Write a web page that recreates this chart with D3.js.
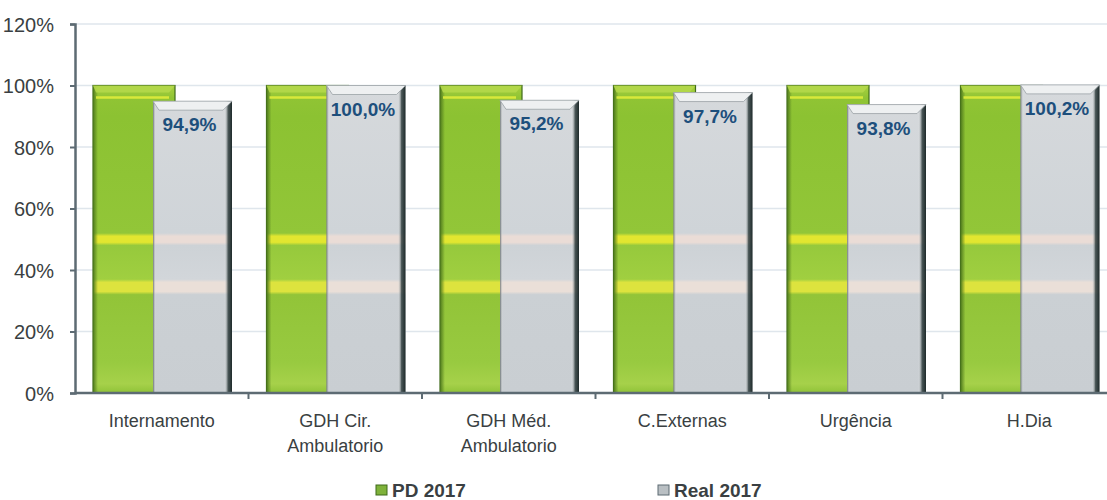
<!DOCTYPE html>
<html><head><meta charset="utf-8">
<script src="https://cdn.jsdelivr.net/npm/d3@7/dist/d3.min.js"></script>
<style>
html,body{margin:0;padding:0;background:#fff;}
text{font-family:"Liberation Sans",Arial,sans-serif;}
</style></head>
<body>
<svg id="chart" width="1107" height="500"></svg>
<script>
const categories = ["Internamento", "GDH Cir.\nAmbulatorio", "GDH Méd.\nAmbulatorio", "C.Externas", "Urgência", "H.Dia"];
const pd2017 = [100, 100, 100, 100, 100, 100];
const real2017 = [94.9, 100.0, 95.2, 97.7, 93.8, 100.2];
const realLabels = ["94,9%", "100,0%", "95,2%", "97,7%", "93,8%", "100,2%"];
const yTicks = [0, 20, 40, 60, 80, 100, 120];
const seriesNames = ["PD 2017", "Real 2017"];

const svg = d3.select("#chart");
const W = 1107, H = 500;
const x0 = 75, bandW = 173.5;
const x = d3.scaleBand().domain(categories).range([x0, x0 + bandW * categories.length]).padding(0);
const y = d3.scaleLinear().domain([0, 120]).range([393, 24]);

const defs = svg.append("defs");
const gG = defs.append("linearGradient").attr("id", "gGreen").attr("gradientUnits", "userSpaceOnUse")
  .attr("x1", 0).attr("x2", 0).attr("y1", y(100)).attr("y2", y(0));
const p = v => (y(100) - y(v)) / (y(100) - y(0));
[[0, "#a8d040"], [p(96), "#90c434"], [p(90), "#8cc232"], [p(52), "#92c638"], [p(51), "#e2e630"], [p(49), "#e2e630"], [p(48), "#96c93c"],
 [p(37), "#a0cf40"], [p(36), "#dde33e"], [p(33), "#dde33e"], [p(32), "#92c438"], [p(10), "#98ca40"], [p(3), "#a6d14a"], [1, "#90c238"]]
  .forEach(s => gG.append("stop").attr("offset", s[0]).attr("stop-color", s[1]));
const gH = defs.append("linearGradient").attr("id", "gGreenH");
[[0, "#4e7a1c"], [0.06, "rgba(80,120,30,0)"], [1, "rgba(80,120,30,0)"]]
  .forEach(s => gH.append("stop").attr("offset", s[0]).attr("stop-color", s[1]));
const gR = defs.append("linearGradient").attr("id", "gGrey").attr("gradientUnits", "userSpaceOnUse")
  .attr("x1", 0).attr("x2", 0).attr("y1", y(100)).attr("y2", y(0));
[[0, "#d6d9dc"], [p(52), "#cfd4d8"], [p(51), "#eadcd6"], [p(49), "#eadcd6"], [p(48), "#cdd2d6"],
 [p(37), "#d2d6da"], [p(36), "#eadfd8"], [p(33), "#eadfd8"], [p(32), "#cbd0d4"], [1, "#c9ced2"]]
  .forEach(s => gR.append("stop").attr("offset", s[0]).attr("stop-color", s[1]));
const gRH = defs.append("linearGradient").attr("id", "gGreyH");
[[0, "rgba(60,70,70,0.7)"], [0.04, "rgba(255,255,255,0)"], [0.9, "rgba(255,255,255,0)"], [0.95, "rgba(40,55,55,0.8)"], [1, "#1e2a2a"]]
  .forEach(s => gRH.append("stop").attr("offset", s[0]).attr("stop-color", s[1]));

svg.append("g").selectAll("line").data(yTicks.filter(t => t > 0)).join("line")
  .attr("x1", x0).attr("x2", W).attr("y1", d => y(d)).attr("y2", d => y(d))
  .attr("stroke", "#dfe6ec").attr("stroke-width", 1.5);

const yAxis = svg.append("g").attr("transform", `translate(${x0},0)`)
  .call(d3.axisLeft(y).tickValues(yTicks).tickFormat(d => d + "%").tickSize(5).tickPadding(16));
yAxis.select(".domain").attr("stroke", "#5d6b73").attr("stroke-width", 2.5);
yAxis.selectAll(".tick line").attr("stroke", "#5d6b73").attr("stroke-width", 2);
yAxis.selectAll(".tick text").attr("font-size", 20).attr("fill", "#3a3f42").attr("dy", "0.36em")
  .style("font-family", "'Liberation Sans', Arial, sans-serif");

const gW = 82, rW = 79, gOff = 18, rOff = 78;
const groups = svg.append("g").selectAll("g").data(categories).join("g");
groups.append("rect").attr("x", d => x(d) + gOff).attr("y", (d, i) => y(pd2017[i]))
  .attr("width", gW).attr("height", (d, i) => y(0) - y(pd2017[i])).attr("fill", "url(#gGreen)")
  .attr("stroke", "#3f6a1a").attr("stroke-width", 1.2);
groups.append("rect").attr("x", d => x(d) + gOff).attr("y", (d, i) => y(pd2017[i]))
  .attr("width", gW).attr("height", (d, i) => y(0) - y(pd2017[i])).attr("fill", "url(#gGreenH)");
groups.append("polygon").attr("points", (d, i) => {
  const xl = x(d) + gOff, xr = xl + gW, yt = y(pd2017[i]);
  return `${xl},${yt} ${xr},${yt} ${xr - 6},${yt + 7} ${xl + 3},${yt + 7}`;
}).attr("fill", "#b4d84a").attr("opacity", 0.9);
groups.append("line").attr("x1", d => x(d) + gOff + 3).attr("x2", d => x(d) + gOff + gW - 6)
  .attr("y1", (d, i) => y(pd2017[i]) + 12).attr("y2", (d, i) => y(pd2017[i]) + 12)
  .attr("stroke", "#d8e83a").attr("stroke-width", 2.5);

groups.append("rect").attr("x", d => x(d) + rOff).attr("y", (d, i) => y(real2017[i]))
  .attr("width", rW).attr("height", (d, i) => y(0) - y(real2017[i])).attr("fill", "url(#gGrey)");
groups.append("rect").attr("x", d => x(d) + rOff).attr("y", (d, i) => y(real2017[i]))
  .attr("width", rW).attr("height", (d, i) => y(0) - y(real2017[i])).attr("fill", "url(#gGreyH)");
groups.append("polygon").attr("points", (d, i) => {
  const xl = x(d) + rOff, xr = xl + rW, yt = y(real2017[i]);
  return `${xl},${yt} ${xr},${yt} ${xr - 9},${yt + 9} ${xl + 6},${yt + 9}`;
}).attr("fill", "#eef0f1").attr("stroke", "#9aa2a6").attr("stroke-width", 0.8);
groups.append("text").attr("x", d => x(d) + rOff + rW / 2 - 3).attr("y", (d, i) => y(real2017[i]) + 30)
  .attr("text-anchor", "middle").attr("font-size", 19).attr("font-weight", "bold").attr("fill", "#1d4f7c")
  .text((d, i) => realLabels[i]);

svg.append("line").attr("x1", x0).attr("x2", W).attr("y1", y(0)).attr("y2", y(0))
  .attr("stroke", "#5d6b73").attr("stroke-width", 2.5);
svg.append("g").selectAll("line").data(categories.slice(1)).join("line")
  .attr("x1", d => x(d)).attr("x2", d => x(d)).attr("y1", y(0)).attr("y2", y(0) + 6)
  .attr("stroke", "#5d6b73").attr("stroke-width", 2);

const lbl = svg.append("g").selectAll("text").data(categories).join("text")
  .attr("x", d => x(d) + x.bandwidth() / 2).attr("y", 427).attr("text-anchor", "middle")
  .attr("font-size", 18).attr("fill", "#3a3f42");
lbl.each(function(d) {
  const parts = d.split("\n");
  d3.select(this).selectAll("tspan").data(parts).join("tspan")
    .attr("x", x(d) + x.bandwidth() / 2).attr("dy", (s, j) => j === 0 ? 0 : 25).text(s => s);
});

const legend = [{name: seriesNames[0], sx: 376, fill: "#7fb23a", stroke: "#3f6a1a"},
                {name: seriesNames[1], sx: 658, fill: "#b9bfc3", stroke: "#5d6b73"}];
const lg = svg.append("g").selectAll("g").data(legend).join("g");
lg.append("rect").attr("x", d => d.sx).attr("y", 485).attr("width", 11).attr("height", 10)
  .attr("fill", d => d.fill).attr("stroke", d => d.stroke).attr("stroke-width", 1);
lg.append("text").attr("x", d => d.sx + 16).attr("y", 497).attr("font-size", 19).attr("font-weight", "bold")
  .attr("fill", "#3a3f42").text(d => d.name);
</script>
</body></html>
